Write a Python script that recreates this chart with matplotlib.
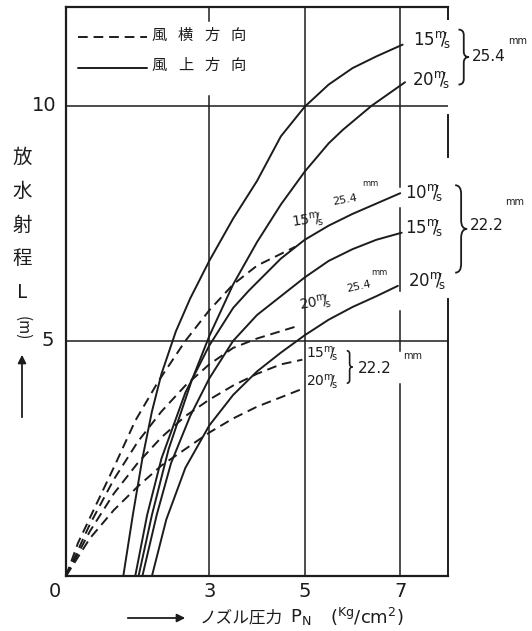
import matplotlib
matplotlib.use("Agg")
import matplotlib.pyplot as plt
from matplotlib.path import Path
from matplotlib.patches import PathPatch, FancyArrowPatch

plt.rcParams['font.family'] = ['Noto Sans CJK JP', 'DejaVu Sans']

# upwind (solid) curves: nozzle 25.4mm and 22.2mm, wind speeds
s254_15_x = [1.2, 1.4, 1.6, 1.8, 2.0, 2.3, 2.6, 3.0, 3.5, 4.0, 4.5, 5.0, 5.5, 6.0, 6.5, 7.05]
s254_15_y = [0, 1.3, 2.5, 3.5, 4.3, 5.2, 5.9, 6.7, 7.6, 8.4, 9.35, 9.98, 10.45, 10.8, 11.05, 11.3]
s254_20_x = [1.52, 1.8, 2.15, 2.63, 3.0, 3.5, 4.0, 4.5, 5.0, 5.5, 5.8, 6.4, 7.1]
s254_20_y = [0, 1.3, 2.7, 4.15, 5.1, 6.2, 7.1, 7.9, 8.6, 9.2, 9.49, 10.0, 10.5]
s222_10_x = [1.45, 1.7, 2.0, 2.5, 3.0, 3.5, 3.83, 4.5, 5.0, 5.5, 6.0, 6.5, 7.0]
s222_10_y = [0, 1.3, 2.5, 3.9, 4.9, 5.7, 6.07, 6.75, 7.15, 7.45, 7.7, 7.92, 8.14]
s222_15_x = [1.6, 1.9, 2.2, 2.6, 3.0, 3.5, 4.0, 4.5, 5.0, 5.5, 6.0, 6.5, 7.03]
s222_15_y = [0, 1.3, 2.4, 3.4, 4.2, 5.0, 5.55, 5.95, 6.35, 6.7, 6.95, 7.15, 7.3]
s222_20_x = [1.8, 2.1, 2.5, 3.0, 3.5, 4.0, 4.5, 5.0, 5.5, 6.0, 6.5, 6.95]
s222_20_y = [0, 1.2, 2.3, 3.2, 3.85, 4.35, 4.75, 5.12, 5.45, 5.72, 5.95, 6.17]

# crosswind (dashed) curves
d254_15_x = [0, 0.25, 0.53, 1.03, 1.45, 1.94, 2.5, 3.0, 3.5, 4.0, 4.5, 4.8]
d254_15_y = [0, 0.7, 1.3, 2.37, 3.3, 4.15, 5.0, 5.65, 6.2, 6.6, 6.85, 7.0]
d254_20_x = [0, 0.5, 1.0, 1.5, 2.0, 2.5, 3.0, 3.5, 4.0, 4.8]
d254_20_y = [0, 1.1, 2.05, 2.85, 3.5, 4.05, 4.5, 4.85, 5.05, 5.3]
d222_15_x = [0, 0.5, 1.0, 1.5, 2.0, 2.5, 3.0, 3.5, 4.0, 4.5, 4.95]
d222_15_y = [0, 0.95, 1.75, 2.4, 2.95, 3.4, 3.75, 4.05, 4.3, 4.5, 4.6]
d222_20_x = [0, 0.5, 1.0, 1.5, 2.0, 2.5, 3.0, 3.5, 4.0, 4.5, 5.0]
d222_20_y = [0, 0.8, 1.4, 1.9, 2.35, 2.7, 3.05, 3.35, 3.6, 3.8, 4.0]

x_ticks = [0, 3, 5, 7]
y_ticks = [5, 10]

ink = '#1c1c1c'
W, H = 532, 631


def brace(ax, x, y0, y1, w, lw=1.3):
    # right-facing curly brace between y0 and y1
    ym = (y0 + y1) / 2
    r = (y1 - y0) * 0.1
    xm = x + w / 2
    verts = [(x, y1), (xm, y1), (xm, y1 - r), (xm, ym + r), (xm, ym), (x + w, ym),
             (xm, ym), (xm, ym - r), (xm, y0 + r), (xm, y0), (x, y0)]
    codes = [Path.MOVETO, Path.CURVE3, Path.CURVE3, Path.LINETO, Path.CURVE3, Path.CURVE3,
             Path.CURVE3, Path.CURVE3, Path.LINETO, Path.CURVE3, Path.CURVE3]
    ax.add_patch(PathPatch(Path(verts, codes), fill=False, edgecolor=ink, lw=lw, clip_on=False))


fig = plt.figure(figsize=(W / 100, H / 100), dpi=100)
ax = fig.add_axes([66 / W, 1 - 576 / H, 382 / W, 569 / H])
ax.set_xlim(0, 8)
ax.set_ylim(0, 12.1)
ax.set_xticks([])
ax.set_yticks([])
for side in ['top', 'left', 'bottom']:
    ax.spines[side].set_linewidth(1.6)
    ax.spines[side].set_color(ink)
ax.spines['right'].set_visible(False)

# grid
gkw = dict(color=ink, lw=1.1, zorder=1)
ax.plot([5, 5], [0, 12.1], **gkw)
for y0, y1 in [(0, 4.08), (4.79, 5.64), (6.07, 7.82), (8.27, 12.1)]:
    ax.plot([7, 7], [y0, y1], **gkw)
ax.plot([3, 3], [0, 10.2], **gkw)
ax.plot([3, 3], [11.8, 12.1], **gkw)
ax.plot([0, 8], [5, 5], **gkw)
ax.plot([0, 8], [10, 10], **gkw)
# broken right frame
for y0, y1 in [(0, 5.9), (8.9, 9.8), (11.85, 12.1)]:
    ax.plot([8, 8], [y0, y1], color=ink, lw=1.4, clip_on=False)

ckw = dict(color=ink, lw=1.4, zorder=3, solid_capstyle='round')
dkw = dict(color=ink, lw=1.4, zorder=3, linestyle=(0, (5, 3)))
for xs, ys in [(s254_15_x, s254_15_y), (s254_20_x, s254_20_y), (s222_10_x, s222_10_y),
               (s222_15_x, s222_15_y), (s222_20_x, s222_20_y)]:
    ax.plot(xs, ys, **ckw)
for xs, ys in [(d254_15_x, d254_15_y), (d254_20_x, d254_20_y),
               (d222_15_x, d222_15_y), (d222_20_x, d222_20_y)]:
    ax.plot(xs, ys, **dkw)

# tick labels
for v in x_ticks:
    ax.text(v - (0.23 if v == 0 else 0), -0.34, str(v), ha='center', va='center', fontsize=14,
            family='DejaVu Sans', color=ink)
ax.text(-0.46, 10, '10', ha='center', va='center', fontsize=14, family='DejaVu Sans', color=ink)
ax.text(-0.38, 5, '5', ha='center', va='center', fontsize=14, family='DejaVu Sans', color=ink)

# legend
ax.plot([0.26, 1.7], [11.46, 11.46], **dkw)
ax.plot([0.26, 1.7], [10.8, 10.8], **ckw)
for i, ch in enumerate('風横方向'):
    ax.text(1.95 + i * 0.55, 11.5, ch, ha='center', va='center', fontsize=11, color=ink)
for i, ch in enumerate('風上方向'):
    ax.text(1.95 + i * 0.55, 10.85, ch, ha='center', va='center', fontsize=11, color=ink)

ms = r'$^{\rm m}\!\!/\!_{\rm s}$'
lkw = dict(color=ink, va='center', ha='left', clip_on=False, family='DejaVu Sans')
ax.text(7.26, 11.41, '15' + ms, fontsize=12, **lkw)
ax.text(7.24, 10.56, '20' + ms, fontsize=12, **lkw)
brace(ax, 8.22, 10.45, 11.62, 0.22)
ax.text(8.5, 11.05, '25.4', fontsize=11, **lkw)
ax.text(9.25, 11.38, 'mm', fontsize=7, **lkw)

ax.text(7.09, 8.16, '10' + ms, fontsize=12, **lkw)
ax.text(7.09, 7.41, '15' + ms, fontsize=12, **lkw)
ax.text(7.16, 6.28, '20' + ms, fontsize=12, **lkw)
brace(ax, 8.15, 6.45, 8.31, 0.25)
ax.text(8.45, 7.45, '22.2', fontsize=11, **lkw)
ax.text(9.2, 7.95, 'mm', fontsize=7, **lkw)

ax.text(4.7, 7.56, '15' + ms, fontsize=10, rotation=8, **lkw)
ax.text(5.56, 8.0, '25.4', fontsize=8, rotation=10, **lkw)
ax.text(6.2, 8.35, 'mm', fontsize=6, **lkw)
ax.text(4.85, 5.8, '20' + ms, fontsize=10, rotation=10, **lkw)
ax.text(5.85, 6.15, '25.4', fontsize=8, rotation=12, **lkw)
ax.text(6.4, 6.45, 'mm', fontsize=6, **lkw)
ax.text(5.02, 4.72, '15' + ms, fontsize=10, **lkw)
ax.text(5.02, 4.12, '20' + ms, fontsize=10, **lkw)
brace(ax, 5.88, 4.1, 4.79, 0.12, lw=1.2)
ax.text(6.12, 4.42, '22.2', fontsize=11, bbox=dict(fc='white', ec='none', pad=0.5), **lkw)
ax.text(7.05, 4.68, 'mm', fontsize=7, **lkw)

# y axis title, written vertically
for i, ch in enumerate(['放', '水', '射', '程', 'L']):
    fig.text(22 / W, 1 - (157 + i * 34) / H, ch, ha='center', va='center', fontsize=14, color=ink)
fig.text(22 / W, 1 - 328 / H, '(m)', ha='center', va='center', fontsize=11, rotation=-90, color=ink)
fig.patches.append(FancyArrowPatch(
    (22 / W, 1 - 420 / H), (22 / W, 1 - 352 / H), transform=fig.transFigure,
    arrowstyle='-|>', mutation_scale=12, color=ink, lw=1.3))

# x axis title
fig.patches.append(FancyArrowPatch(
    (125 / W, 1 - 618 / H), (188 / W, 1 - 618 / H), transform=fig.transFigure,
    arrowstyle='-|>', mutation_scale=12, color=ink, lw=1.3))
fig.text(200 / W, 1 - 618 / H, 'ノズル圧力', ha='left', va='center', fontsize=12, color=ink)
fig.text(290 / W, 1 - 617 / H, r'P$_{\rm N}$', ha='left', va='center', fontsize=13, color=ink,
         family='DejaVu Sans')
fig.text(330 / W, 1 - 617 / H, r'($^{\rm Kg}$/cm$^{2}$)', ha='left', va='center', fontsize=13,
         color=ink, family='DejaVu Sans')

fig.savefig('out.png', dpi=100, facecolor='white')
